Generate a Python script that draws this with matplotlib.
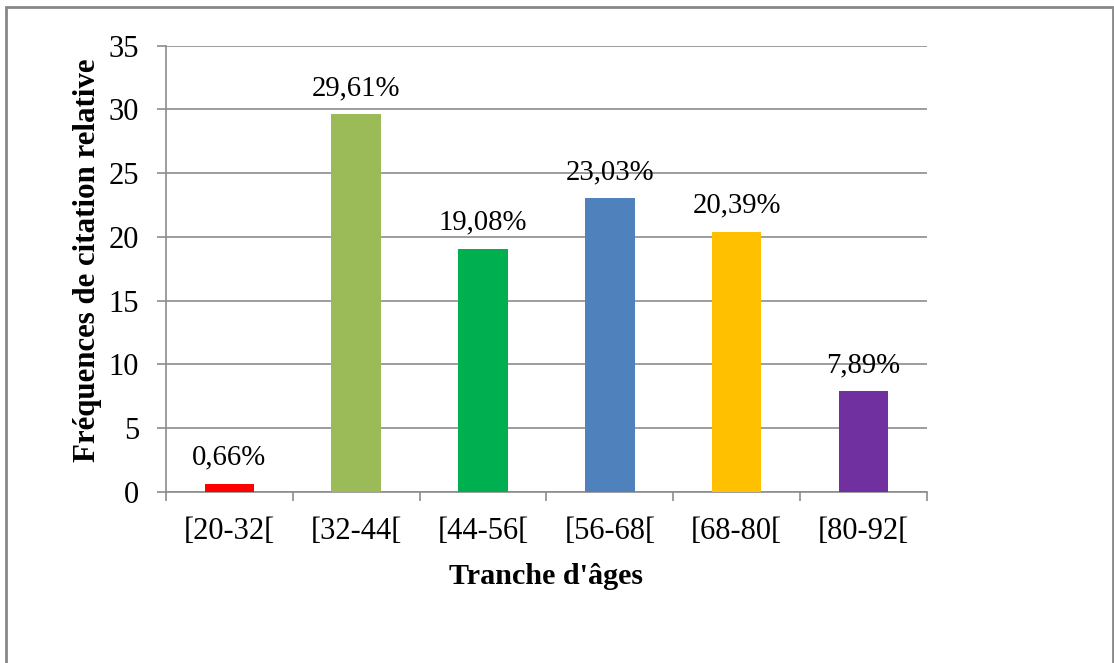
import numpy as np
import matplotlib.pyplot as plt
from matplotlib.patches import Rectangle

# age groups and relative citation frequencies (%)
tranches = ["[20-32[", "[32-44[", "[44-56[", "[56-68[", "[68-80[", "[80-92["]
frequences = [0.66, 29.61, 19.08, 23.03, 20.39, 7.89]
couleurs = ["#FF0000", "#9BBB59", "#00B050", "#4F81BD", "#FFC000", "#7030A0"]

plt.rcParams["font.family"] = ["Liberation Serif", "DejaVu Serif"]

fig = plt.figure(figsize=(11.14, 6.63), dpi=100)
ax = fig.add_axes([0.149, 0.258, 0.683, 0.673])

x = np.arange(len(tranches))
bars = ax.bar(x, frequences, width=0.39, color=couleurs, zorder=3)

for xi, v in zip(x, frequences):
    ax.annotate(f"{v:.2f}%".replace(".", ","), (xi, v), xytext=(0, 14),
                textcoords="offset points", ha="center", va="baseline",
                fontsize=20.7)

ax.set_ylim(0, 35)
ax.set_xlim(-0.5, len(tranches) - 0.5)
ax.set_yticks(np.arange(0, 36, 5))
ax.yaxis.grid(True, color="#8c8c8c", linewidth=1.2, zorder=0)
ax.set_axisbelow(True)

ax.set_xticks(x)
ax.set_xticklabels(tranches)
ax.set_xticks(np.arange(-0.5, len(tranches)), minor=True)
ax.tick_params(axis="x", which="major", length=0, pad=18, labelsize=22)
ax.tick_params(axis="x", which="minor", length=6.5, width=1.2, color="#8c8c8c", direction="out")
ax.tick_params(axis="y", length=6.5, width=1.2, color="#8c8c8c", pad=13, labelsize=22)

for side in ["top", "right"]:
    ax.spines[side].set_visible(False)
for side in ["left", "bottom"]:
    ax.spines[side].set_color("#8c8c8c")
    ax.spines[side].set_linewidth(1.2)

ax.set_xlabel("Tranche d'âges", fontsize=21.7, fontweight="bold", va="center")
ax.xaxis.set_label_coords(0.5, -0.19)
ax.set_ylabel("Fréquences de citation relative", fontsize=22.2, fontweight="bold", va="center")
ax.yaxis.set_label_coords(-0.1025, 0.52)

# frame around the whole chart
fig.patches.append(Rectangle((6 / 1114, -0.05), 1107 / 1114, 1.05 - 7 / 663,
                             transform=fig.transFigure, fill=False,
                             edgecolor="#888888", linewidth=2))

fig.savefig("out.png", dpi=100)
